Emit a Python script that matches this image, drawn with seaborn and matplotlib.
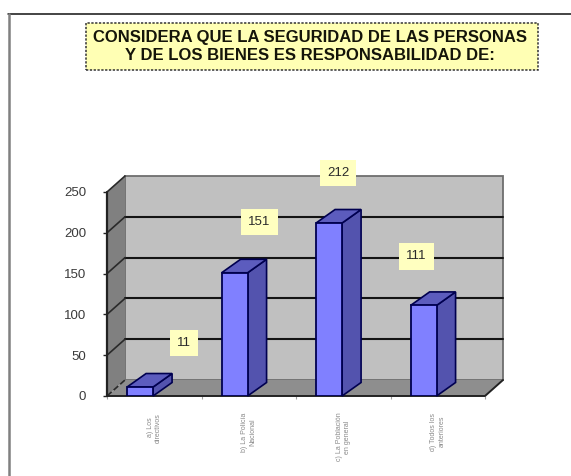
import matplotlib
matplotlib.use("Agg")
import matplotlib.pyplot as plt
from matplotlib.lines import Line2D
from matplotlib.patches import Polygon, Rectangle
import numpy as np
import pandas as pd
import seaborn as sns

categories = ["a) Los\ndirectivos", "b) La Policía\nNacional", "c) La Población\nen general", "d) Todos los\nanteriores"]
values = [11, 151, 212, 111]
y_ticks = [0, 50, 100, 150, 200, 250]
title = "CONSIDERA QUE LA SEGURIDAD DE LAS PERSONAS\nY DE LOS BIENES ES RESPONSABILIDAD DE:"

sns.set_style("white")
plt.rcParams["font.family"] = ["Liberation Sans", "DejaVu Sans"]

W, H = 571, 476
fig = plt.figure(figsize=(W / 100, H / 100), dpi=100, facecolor="white")
ax = fig.add_axes([107 / W, (H - 396) / H, 378 / W, 204 / H])

df = pd.DataFrame({"cat": categories, "val": values})
sns.barplot(data=df, x="cat", y="val", color="#8080FF", saturation=1, width=26 / 94.5,
            edgecolor="#000050", linewidth=1.3, ax=ax, zorder=5)

x0, x1 = -0.35, 3.65
ax.set_xlim(x0, x1)
ax.set_ylim(0, 250)
ax.set_facecolor("none")
for s in ax.spines.values():
    s.set_visible(False)
ax.set_xlabel("")
ax.set_ylabel("")

# depth of the pseudo-3D box, in data units
dx = 18 / 94.5
dy = 16 / 0.816
bdx = 19 / 94.5
bdy = 13.5 / 0.816

ax.add_patch(Polygon([(x0 + dx, dy), (x1 + dx, dy), (x1 + dx, 250 + dy), (x0 + dx, 250 + dy)],
                     closed=True, fc="#C0C0C0", ec="#6E6E6E", lw=1.3, zorder=1, clip_on=False))
ax.add_patch(Polygon([(x0, 0), (x0 + dx, dy), (x0 + dx, 250 + dy), (x0, 250)],
                     closed=True, fc="#808080", ec="none", zorder=1, clip_on=False))
ax.add_patch(Polygon([(x0, 0), (x1, 0), (x1 + dx, dy), (x0 + dx, dy)],
                     closed=True, fc="#8E8E8E", ec="none", zorder=1, clip_on=False))

for t in y_ticks:
    if t > 0 and t < 250:
        ax.plot([x0 + dx, x1 + dx], [t + dy, t + dy], color="#141414", lw=1.5, zorder=2, clip_on=False)
    ls = "--" if t == 0 else "-"
    ax.plot([x0, x0 + dx], [t, t + dy], color="#2A2A2A", lw=1.2, ls=ls, zorder=2, clip_on=False)
ax.plot([x0, x0], [0, 250], color="#222222", lw=1.6, zorder=3, clip_on=False)
ax.plot([x0, x1, x1 + dx], [0, 0, dy], color="#222222", lw=1.4, zorder=3, clip_on=False)

for bar in ax.patches[:len(values)]:
    l, r, h = bar.get_x(), bar.get_x() + bar.get_width(), bar.get_height()
    if h == 0:
        continue
    ax.add_patch(Polygon([(r, 0), (r + bdx, bdy), (r + bdx, h + bdy), (r, h)], closed=True,
                         fc="#5353AE", ec="#000050", lw=1.2, zorder=4, clip_on=False))
    ax.add_patch(Polygon([(l, h), (r, h), (r + bdx, h + bdy), (l + bdx, h + bdy)], closed=True,
                         fc="#5C5CBE", ec="#000050", lw=1.2, zorder=4, clip_on=False))

ax.set_yticks(y_ticks)
ax.tick_params(axis="y", left=True, length=3, width=1, color="#222222", pad=12,
               labelsize=9.5, labelcolor="#3A3A3A")

centres = np.arange(len(values)) + 0.15
ax.set_xticks(centres)
ax.set_xticklabels(categories, rotation=90, ha="center", va="top", multialignment="center")
ax.tick_params(axis="x", bottom=False, length=0, pad=12, labelsize=5, labelcolor="#8A8A8A")
ax.set_xticks(np.arange(x0, x1 + 0.01), minor=True)
ax.tick_params(axis="x", which="minor", bottom=True, length=2, width=0.8, color="#A0A0A0")

# value labels floating off the bars (offsets in pixels)
label_offsets = [(44, 44), (25, 51), (9, 50), (-7, 49)]
for bar, v, (ox, oy) in zip(ax.patches[:len(values)], values, label_offsets):
    ax.annotate(str(v), (bar.get_x() + bar.get_width() / 2, bar.get_height()),
                xytext=(ox * 0.72, oy * 0.72), textcoords="offset points",
                ha="center", va="center", fontsize=9.5, color="#2A2A2A", zorder=8,
                annotation_clip=False,
                bbox=dict(boxstyle="square,pad=0.55", fc="#FFFFC0", ec="none"))

# title box
fig.add_artist(Rectangle((86 / W, (H - 70) / H), 452 / W, 47 / H, transform=fig.transFigure,
                         fc="#FFFFB4", ec="#333333", lw=1.1, ls=(0, (1.5, 1))))
fig.text(310 / W, (H - 46.5) / H, title, ha="center", va="center", fontsize=12, fontweight="bold",
         color="#15150A", linespacing=1.3)

# frame lines of the slide
fig.add_artist(Line2D([8 / W, 1], [(H - 13.5) / H] * 2, color="#111111", lw=1.1, transform=fig.transFigure))
fig.add_artist(Line2D([9 / W, 9 / W], [0, (H - 13.5) / H], color="#808080", lw=1.8, transform=fig.transFigure))

fig.savefig("out.png", dpi=100, facecolor="white")
